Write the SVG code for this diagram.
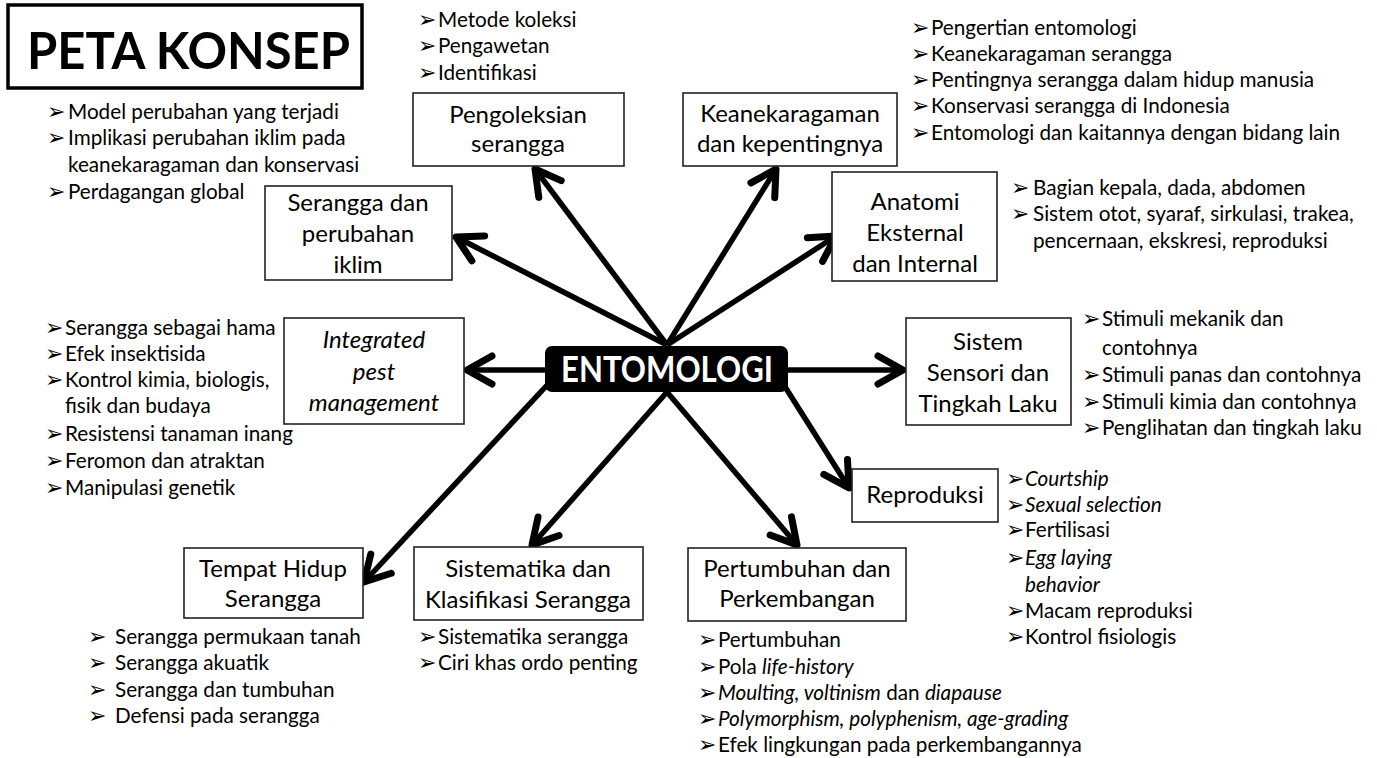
<svg xmlns="http://www.w3.org/2000/svg" width="1377" height="758" viewBox="0 0 1377 758">
<style>
.bx{fill:#fff;stroke:#222;stroke-width:1.6}
.bt{font-family:Lato,"Liberation Sans",sans-serif;font-size:24px;fill:#000;text-anchor:middle}
.t{font-family:Lato,"Liberation Sans",sans-serif;font-size:20.7px;fill:#000}
.b{font-family:"DejaVu Sans",sans-serif;font-size:22px;fill:#000}
.i{font-style:italic}
.c{fill:none;stroke:#000;stroke-width:5.5;marker-end:url(#ah)}
</style>
<defs>
<marker id="ah" markerUnits="userSpaceOnUse" markerWidth="60" markerHeight="60" viewBox="-30 -30 60 60" refX="0" refY="0" orient="auto" overflow="visible">
<path d="M-25,-14 L0,0 L-25,14" fill="none" stroke="#000" stroke-width="7" stroke-linecap="round" stroke-linejoin="round"/>
</marker>
</defs>
<rect width="1377" height="758" fill="#fff"/>
<g id="connectors">
<line class="c" x1="667" y1="345" x2="535" y2="169"/>
<line class="c" x1="667" y1="345" x2="776" y2="169"/>
<line class="c" x1="667" y1="345" x2="456" y2="237"/>
<line class="c" x1="667" y1="345" x2="836" y2="236"/>
<line class="c" x1="548" y1="370" x2="467" y2="370"/>
<line class="c" x1="786" y1="370" x2="903" y2="370"/>
<line class="c" x1="782" y1="382" x2="849" y2="488"/>
<line class="c" x1="667" y1="392" x2="797" y2="545"/>
<line class="c" x1="667" y1="392" x2="532" y2="545"/>
<line class="c" x1="550" y1="382" x2="364" y2="582"/>
</g>
<g id="title">
<rect x="8" y="5" width="354" height="83" fill="#fff" stroke="#000" stroke-width="3.5"/>
<text x="27" y="69" font-family="Lato,'Liberation Sans',sans-serif" font-weight="bold" font-size="52" fill="#000" textLength="323" lengthAdjust="spacingAndGlyphs">PETA KONSEP</text>
</g>
<g id="entomologi">
<rect x="545" y="346" width="243" height="46" rx="7" fill="#000"/>
<text x="561" y="382" font-family="Lato,'Liberation Sans',sans-serif" font-weight="bold" font-size="36" fill="#fff" textLength="212" lengthAdjust="spacingAndGlyphs">ENTOMOLOGI</text>
</g>
<g id="pengoleksian">
<rect class="bx" x="413" y="93" width="211" height="73"/>
<text class="bt" x="518" y="123">Pengoleksian</text>
<text class="bt" x="518" y="152">serangga</text>
<text class="b" x="418" y="27">➢</text><text class="t" x="438" y="27">Metode koleksi</text>
<text class="b" x="418" y="53">➢</text><text class="t" x="438" y="53">Pengawetan</text>
<text class="b" x="418" y="80">➢</text><text class="t" x="438" y="80">Identifikasi</text>
</g>
<g id="keanekaragaman">
<rect class="bx" x="683" y="93" width="214" height="73"/>
<text class="bt" x="790" y="122">Keanekaragaman</text>
<text class="bt" x="790" y="152">dan kepentingnya</text>
<text class="b" x="911" y="35">➢</text><text class="t" x="931" y="35">Pengertian entomologi</text>
<text class="b" x="911" y="61">➢</text><text class="t" x="931" y="61">Keanekaragaman serangga</text>
<text class="b" x="911" y="87">➢</text><text class="t" x="931" y="87">Pentingnya serangga dalam hidup manusia</text>
<text class="b" x="911" y="113">➢</text><text class="t" x="931" y="113">Konservasi serangga di Indonesia</text>
<text class="b" x="911" y="140">➢</text><text class="t" x="931" y="140">Entomologi dan kaitannya dengan bidang lain</text>
</g>
<g id="perubahan-iklim">
<rect class="bx" x="265" y="186" width="187" height="94"/>
<text class="bt" x="358" y="211">Serangga dan</text>
<text class="bt" x="358" y="242">perubahan</text>
<text class="bt" x="358" y="273">iklim</text>
<text class="b" x="47" y="119">➢</text><text class="t" x="68" y="119">Model perubahan yang terjadi</text>
<text class="b" x="47" y="145">➢</text><text class="t" x="68" y="145">Implikasi perubahan iklim pada</text>
<text class="t" x="68" y="172">keanekaragaman dan konservasi</text>
<text class="b" x="47" y="199">➢</text><text class="t" x="68" y="199">Perdagangan global</text>
</g>
<g id="anatomi">
<rect class="bx" x="832" y="172" width="165" height="109"/>
<text class="bt" x="915" y="210">Anatomi</text>
<text class="bt" x="915" y="241">Eksternal</text>
<text class="bt" x="915" y="272">dan Internal</text>
<text class="b" x="1011" y="195">➢</text><text class="t" x="1033" y="195">Bagian kepala, dada, abdomen</text>
<text class="b" x="1011" y="221">➢</text><text class="t" x="1033" y="221">Sistem otot, syaraf, sirkulasi, trakea,</text>
<text class="t" x="1033" y="248">pencernaan, ekskresi, reproduksi</text>
</g>
<g id="ipm">
<rect class="bx" x="284" y="318" width="180" height="106"/>
<text class="bt i" x="374" y="348">Integrated</text>
<text class="bt i" x="374" y="380">pest</text>
<text class="bt i" x="374" y="411">management</text>
<text class="b" x="45" y="335">➢</text><text class="t" x="65" y="335">Serangga sebagai hama</text>
<text class="b" x="45" y="361">➢</text><text class="t" x="65" y="361">Efek insektisida</text>
<text class="b" x="45" y="387">➢</text><text class="t" x="65" y="387">Kontrol kimia, biologis,</text>
<text class="t" x="65" y="413">fisik dan budaya</text>
<text class="b" x="45" y="441">➢</text><text class="t" x="65" y="441">Resistensi tanaman inang</text>
<text class="b" x="45" y="468">➢</text><text class="t" x="65" y="468">Feromon dan atraktan</text>
<text class="b" x="45" y="495">➢</text><text class="t" x="65" y="495">Manipulasi genetik</text>
</g>
<g id="sensori">
<rect class="bx" x="906" y="318" width="165" height="107"/>
<text class="bt" x="988" y="350">Sistem</text>
<text class="bt" x="988" y="381">Sensori dan</text>
<text class="bt" x="988" y="412">Tingkah Laku</text>
<text class="b" x="1082" y="326">➢</text><text class="t" x="1102" y="326">Stimuli mekanik dan</text>
<text class="t" x="1102" y="355">contohnya</text>
<text class="b" x="1082" y="382">➢</text><text class="t" x="1102" y="382">Stimuli panas dan contohnya</text>
<text class="b" x="1082" y="409">➢</text><text class="t" x="1102" y="409">Stimuli kimia dan contohnya</text>
<text class="b" x="1082" y="435">➢</text><text class="t" x="1102" y="435">Penglihatan dan tingkah laku</text>
</g>
<g id="reproduksi">
<rect class="bx" x="852" y="469" width="146" height="53"/>
<text class="bt" x="925" y="503">Reproduksi</text>
<text class="b" x="1006" y="486">➢</text><text class="t i" x="1025" y="486">Courtship</text>
<text class="b" x="1006" y="512">➢</text><text class="t i" x="1025" y="512">Sexual selection</text>
<text class="b" x="1006" y="537">➢</text><text class="t" x="1025" y="537">Fertilisasi</text>
<text class="b" x="1006" y="565">➢</text><text class="t i" x="1025" y="565">Egg laying</text>
<text class="t i" x="1025" y="592">behavior</text>
<text class="b" x="1006" y="618">➢</text><text class="t" x="1025" y="618">Macam reproduksi</text>
<text class="b" x="1006" y="644">➢</text><text class="t" x="1025" y="644">Kontrol fisiologis</text>
</g>
<g id="pertumbuhan">
<rect class="bx" x="688" y="548" width="218" height="73"/>
<text class="bt" x="797" y="577">Pertumbuhan dan</text>
<text class="bt" x="797" y="607">Perkembangan</text>
<text class="b" x="698" y="647">➢</text><text class="t" x="718" y="647">Pertumbuhan</text>
<text class="b" x="698" y="674">➢</text><text class="t" x="718" y="674">Pola <tspan class="i">life-history</tspan></text>
<text class="b" x="698" y="700">➢</text><text class="t" x="718" y="700"><tspan class="i">Moulting, voltinism</tspan> dan <tspan class="i">diapause</tspan></text>
<text class="b" x="698" y="726">➢</text><text class="t i" x="718" y="726">Polymorphism, polyphenism, age-grading</text>
<text class="b" x="698" y="752">➢</text><text class="t" x="718" y="752">Efek lingkungan pada perkembangannya</text>
</g>
<g id="sistematika">
<rect class="bx" x="414" y="547" width="229" height="73"/>
<text class="bt" x="528" y="577">Sistematika dan</text>
<text class="bt" x="528" y="608">Klasifikasi Serangga</text>
<text class="b" x="418" y="644">➢</text><text class="t" x="438" y="644">Sistematika serangga</text>
<text class="b" x="418" y="670">➢</text><text class="t" x="438" y="670">Ciri khas ordo penting</text>
</g>
<g id="tempat-hidup">
<rect class="bx" x="184" y="548" width="179" height="70"/>
<text class="bt" x="273" y="577">Tempat Hidup</text>
<text class="bt" x="273" y="607">Serangga</text>
<text class="b" x="88" y="644">➢</text><text class="t" x="115" y="644">Serangga permukaan tanah</text>
<text class="b" x="88" y="670">➢</text><text class="t" x="115" y="670">Serangga akuatik</text>
<text class="b" x="88" y="697">➢</text><text class="t" x="115" y="697">Serangga dan tumbuhan</text>
<text class="b" x="88" y="723">➢</text><text class="t" x="115" y="723">Defensi pada serangga</text>
</g>
</svg>
